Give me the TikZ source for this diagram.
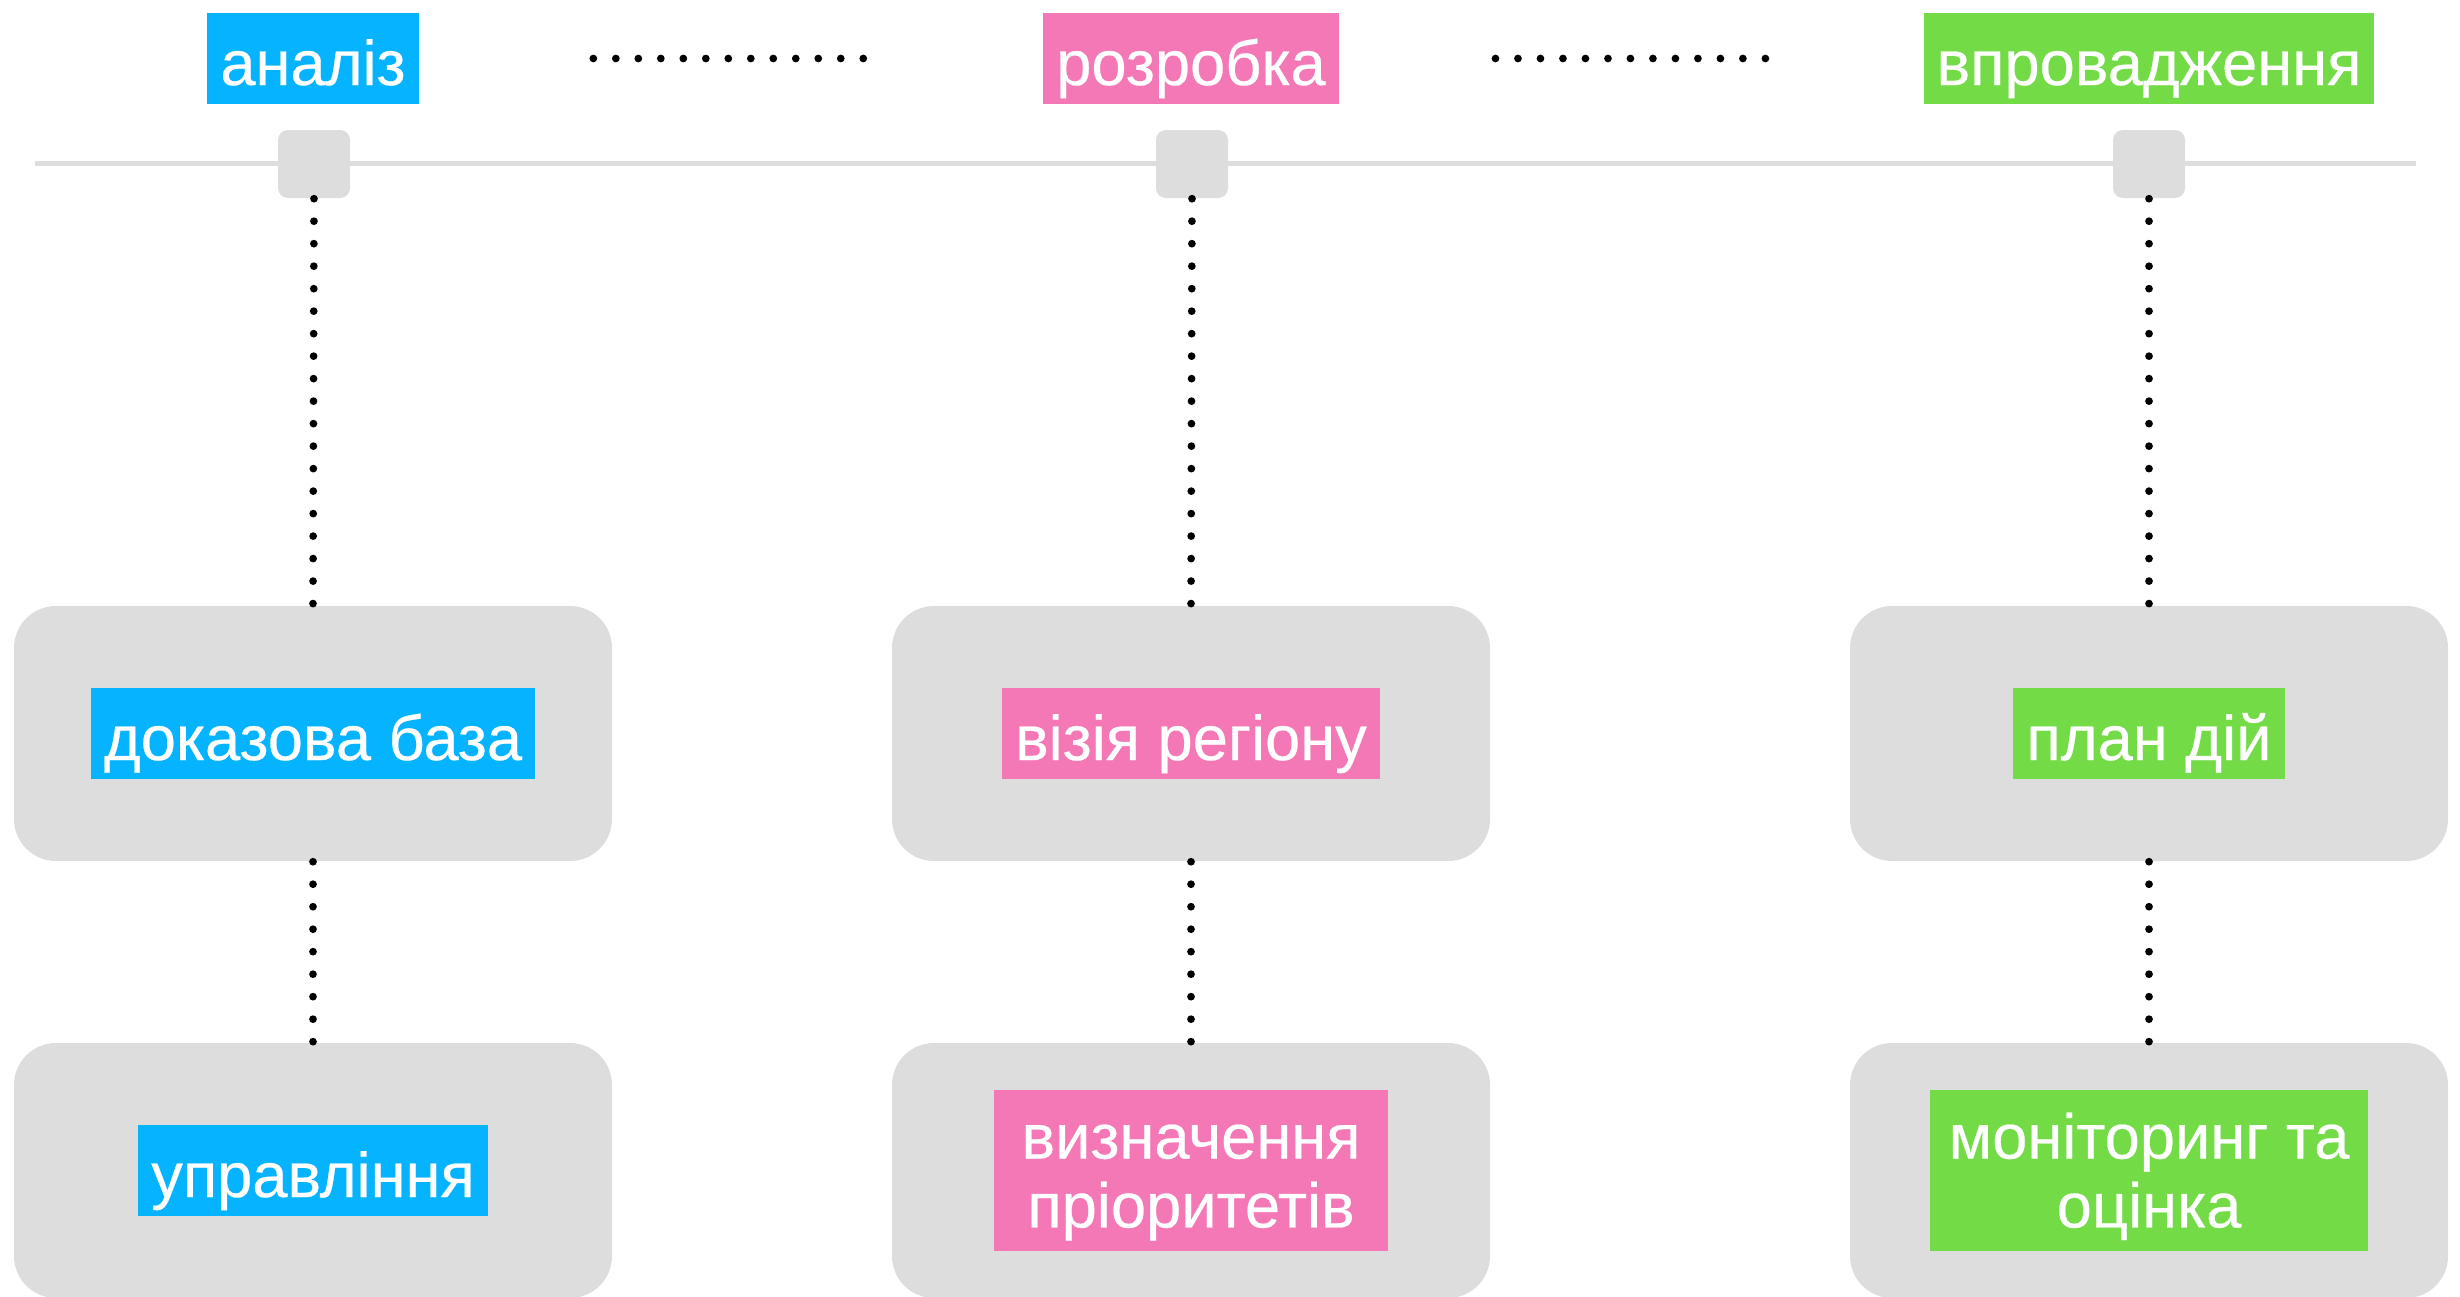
\documentclass[tikz,border=0pt]{standalone}
\usepackage{fontspec}
\setmainfont[FakeBold=0.4]{Liberation Sans}
\definecolor{myblue}{RGB}{5,179,255}
\definecolor{mypink}{RGB}{244,120,181}
\definecolor{mygreen}{RGB}{114,219,70}
\definecolor{mygray}{RGB}{221,221,221}
\usetikzlibrary{positioning}

\begin{document}
\begin{tikzpicture}[
    every node/.style={font=\fontsize{18}{19.6}\selectfont},
    stagetag/.style={fill=#1,text=white,inner xsep=0.13cm,inner ysep=0pt,
      text height=20.5pt,text depth=5.4pt,align=center},
    twoline/.style={text height=39.2pt,text depth=6.8pt},
    card/.style={fill=mygray,rounded corners=0.42cm,minimum width=5.98cm,minimum height=2.55cm},
    knob/.style={fill=mygray,rounded corners=0.1cm,minimum width=0.72cm,minimum height=0.68cm},
    dotline/.style={line width=2.2pt,line cap=round,dash pattern=on 0pt off 6.4pt},
    node distance=4.37cm
    ]
    \clip (0,0) rectangle (24.6,-12.96);

    % the timeline
    \draw[mygray,line width=0.05cm] (0.35,-1.635) -- (24.16,-1.635);

    \node (anA) [stagetag=myblue] at (3.13,-0.585) {аналіз};
    \node (anB) [stagetag=mypink] at (11.91,-0.585) {розробка};
    \node (anC) [stagetag=mygreen] at (21.49,-0.585) {впровадження};

    \node (knA) [knob] at (3.14,-1.64) {};
    \node (knB) [knob] at (11.92,-1.64) {};
    \node (knC) [knob] at (21.49,-1.64) {};

    \node (cdA1) [card] at (3.13,-7.335) {};
    \node (cdB1) [card] at (11.91,-7.335) {};
    \node (cdC1) [card] at (21.49,-7.335) {};
    \node (cdA2) [card,below of=cdA1] {};
    \node (cdB2) [card,below of=cdB1] {};
    \node (cdC2) [card,below of=cdC1] {};

    \node (lbA1) [stagetag=myblue] at (cdA1) {доказова база};
    \node (lbB1) [stagetag=mypink] at (cdB1) {візія регіону};
    \node (lbC1) [stagetag=mygreen] at (cdC1) {план дій};
    \node (lbA2) [stagetag=myblue] at (cdA2) {управління};
    \node (lbB2) [stagetag=mypink,twoline,minimum width=3.94cm] at (cdB2) {визначення\\пріоритетів};
    \node (lbC2) [stagetag=mygreen,twoline,minimum width=4.38cm] at (cdC2) {моніторинг та\\оцінка};

    % the dotted links
    \draw[dotline,shorten <=1.74cm,shorten >=1.6cm] (anA.east) -- (anB.west);
    \draw[dotline,shorten <=1.56cm,shorten >=1.57cm] (anB.east) -- (anC.west);
    \draw[dotline] (knA.south) -- (cdA1.north);
    \draw[dotline] (knB.south) -- (cdB1.north);
    \draw[dotline] (knC.south) -- (cdC1.north);
    \draw[dotline] (cdA1.south) -- (cdA2.north);
    \draw[dotline] (cdB1.south) -- (cdB2.north);
    \draw[dotline] (cdC1.south) -- (cdC2.north);
\end{tikzpicture}
\end{document}
